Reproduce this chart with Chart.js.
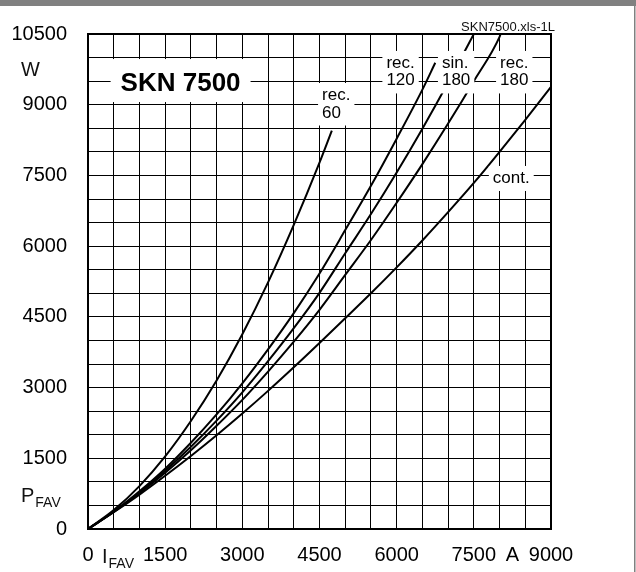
<!DOCTYPE html>
<html>
<head>
<meta charset="UTF-8">
<title>SKN 7500 - P_FAV vs I_FAV</title>
<script src="https://cdn.jsdelivr.net/npm/chart.js"></script>
<style>
  html, body { margin: 0; padding: 0; background: #fff; }
  canvas { display: block; }
</style>
</head>
<body>
<canvas id="chart" width="636" height="572"></canvas>
<script>
// forward power loss P_FAV (W) against average current I_FAV (A)
const rec60Current = [0, 500, 1000, 1500, 2000, 2500, 3000, 3500, 4000, 4500, 4740];
const rec60Power   = [0, 400, 910, 1540, 2290, 3150, 4130, 5230, 6450, 7770, 8450];

const rec120Current = [0, 500, 1000, 1500, 2000, 2500, 3000, 3500, 4000, 4500, 5000, 5500, 6000, 6500, 6750];
const rec120Power   = [0, 370, 800, 1280, 1830, 2430, 3090, 3810, 4580, 5420, 6340, 7280, 8280, 9320, 9890];

const sin180Current = [0, 500, 1000, 1500, 2000, 2500, 3000, 3500, 4000, 4500, 5000, 5500, 6000, 6500, 7000, 7500];
const sin180Power   = [0, 365, 775, 1235, 1745, 2300, 2900, 3560, 4260, 5010, 5850, 6680, 7560, 8490, 9470, 10500];

const rec180Current = [0, 500, 1000, 1500, 2000, 2500, 3000, 3500, 4000, 4500, 5000, 5500, 6000, 6500, 7000, 7500, 8000, 8020];
const rec180Power   = [0, 360, 760, 1195, 1670, 2190, 2740, 3340, 3975, 4650, 5390, 6130, 6920, 7740, 8600, 9500, 10440, 10500];

const contCurrent = [0, 500, 1000, 1500, 2000, 2500, 3000, 3500, 4000, 4500, 5000, 5500, 6000, 6500, 7000, 7500, 8000, 8500, 9000];
const contPower   = [0, 355, 730, 1130, 1550, 1990, 2450, 2930, 3430, 3945, 4470, 5000, 5550, 6120, 6720, 7340, 8000, 8680, 9380];

// tick labels
const xLabelValues = [0, 1500, 3000, 4500, 6000, 7500, 8250, 9000];
const xLabelTexts  = ['0', '1500', '3000', '4500', '6000', '7500', 'A', '9000'];
const yLabelValues = [0, 1500, 3000, 4500, 6000, 7500, 9000, 10500];
const yLabelTexts  = ['0', '1500', '3000', '4500', '6000', '7500', '9000', '10500'];

const FONT = '"Liberation Sans", Arial, sans-serif';

// curve labels, anchored in data units (left edge, baseline of first line)
const curveLabels = [
  { lines: ['rec.', '60'],  x: 4550, y: 9100 },
  { lines: ['rec.', '120'], x: 5800, y: 9780 },
  { lines: ['sin.', '180'], x: 6880, y: 9780 },
  { lines: ['rec.', '180'], x: 8010, y: 9780 },
  { lines: ['cont.'],       x: 7870, y: 7340 }
];

const series = [
  { current: rec60Current,  power: rec60Power },
  { current: rec120Current, power: rec120Power },
  { current: sin180Current, power: sin180Power },
  { current: rec180Current, power: rec180Power },
  { current: contCurrent,   power: contPower }
];

function stepTicks(max, step) {
  const out = [];
  for (let v = 0; v <= max; v += step) out.push({ value: v });
  return out;
}

const decorations = {
  id: 'decorations',
  beforeDraw(chart) {
    const { ctx, width, height } = chart;
    ctx.save();
    ctx.fillStyle = '#fff';
    ctx.fillRect(0, 0, width, height);
    ctx.fillStyle = '#808080';
    ctx.fillRect(0, 0, width, 6);
    ctx.fillRect(width - 2, 0, 1.5, height);
    ctx.restore();
  },
  afterDatasetsDraw(chart) {
    const { ctx, chartArea: a, scales: { x, y } } = chart;
    ctx.save();

    // labels on the curves, white boxes cut the grid
    ctx.font = '17px ' + FONT;
    ctx.textBaseline = 'alphabetic';
    ctx.textAlign = 'left';
    curveLabels.forEach(l => {
      const px = x.getPixelForValue(l.x);
      const py = y.getPixelForValue(l.y);
      const w = Math.max(...l.lines.map(t => ctx.measureText(t).width));
      ctx.fillStyle = '#fff';
      ctx.fillRect(px - 4, py - 17, w + 8, 17.5 * (l.lines.length - 1) + 25);
      ctx.fillStyle = '#000';
      l.lines.forEach((t, i) => ctx.fillText(t, px, py + i * 17.5));
    });

    // type label
    ctx.font = 'bold 26px ' + FONT;
    ctx.textAlign = 'center';
    const tx = x.getPixelForValue(1800), ty = y.getPixelForValue(9290);
    const tw = ctx.measureText('SKN 7500').width;
    ctx.fillStyle = '#fff';
    ctx.fillRect(tx - tw / 2 - 10, ty - 32, tw + 20, 43);
    ctx.fillStyle = '#000';
    ctx.fillText('SKN 7500', tx, ty);

    // frame
    ctx.strokeStyle = '#000';
    ctx.lineWidth = 2;
    ctx.strokeRect(a.left, a.top, a.right - a.left, a.bottom - a.top);

    // file tag
    ctx.font = '13px ' + FONT;
    ctx.textAlign = 'right';
    ctx.fillStyle = '#111';
    ctx.fillText('SKN7500.xls-1L', a.right + 4, a.top - 3);

    // axis names with subscripts
    ctx.textAlign = 'left';
    ctx.font = '20px ' + FONT;
    ctx.fillText('W', 21, y.getPixelForValue(9750) + 7);
    const pY = y.getPixelForValue(750) + 8;
    ctx.fillText('P', 21, pY);
    const pW = ctx.measureText('P').width;
    const iX = x.getPixelForValue(0) + 14;
    const iY = a.bottom + 34;
    ctx.fillText('I', iX, iY);
    const iW = ctx.measureText('I').width;
    ctx.font = '14px ' + FONT;
    ctx.fillText('FAV', 21 + pW + 1, pY + 5);
    ctx.fillText('FAV', iX + iW + 1, iY + 5);

    ctx.restore();
  }
};

const gridColor = c => (c.tick && c.tick.value % 500 === 0) ? '#000' : 'rgba(0,0,0,0)';

new Chart(document.getElementById('chart'), {
  type: 'scatter',
  data: {
    datasets: series.map(s => ({
      data: s.current.map((c, i) => ({ x: c, y: s.power[i] })),
      showLine: true,
      borderColor: '#000',
      borderWidth: 2,
      pointRadius: 0,
      cubicInterpolationMode: 'monotone',
      fill: false
    }))
  },
  options: {
    responsive: false,
    animation: false,
    devicePixelRatio: 1,
    layout: { padding: { top: 34, right: 85, left: 0, bottom: 0 } },
    plugins: { legend: { display: false }, tooltip: { enabled: false } },
    scales: {
      x: {
        type: 'linear',
        min: 0,
        max: 9000,
        afterBuildTicks: s => { s.ticks = stepTicks(9000, 250); },
        afterFit: s => { s.height = 43; },
        border: { display: false },
        grid: { color: gridColor, lineWidth: 1, drawTicks: false },
        ticks: {
          autoSkip: false,
          maxRotation: 0,
          minRotation: 0,
          padding: 14,
          color: '#000',
          font: { family: FONT, size: 20 },
          callback: v => {
            const i = xLabelValues.indexOf(v);
            return i >= 0 ? xLabelTexts[i] : '';
          }
        }
      },
      y: {
        type: 'linear',
        min: 0,
        max: 10500,
        afterBuildTicks: s => { s.ticks = stepTicks(10500, 250); },
        afterFit: s => { s.width = 88; },
        border: { display: false },
        grid: { color: gridColor, lineWidth: 1, drawTicks: false },
        ticks: {
          autoSkip: false,
          padding: 21,
          color: '#000',
          font: { family: FONT, size: 20 },
          callback: v => {
            const i = yLabelValues.indexOf(v);
            return i >= 0 ? yLabelTexts[i] : '';
          }
        }
      }
    }
  },
  plugins: [decorations]
});
</script>
</body>
</html>
